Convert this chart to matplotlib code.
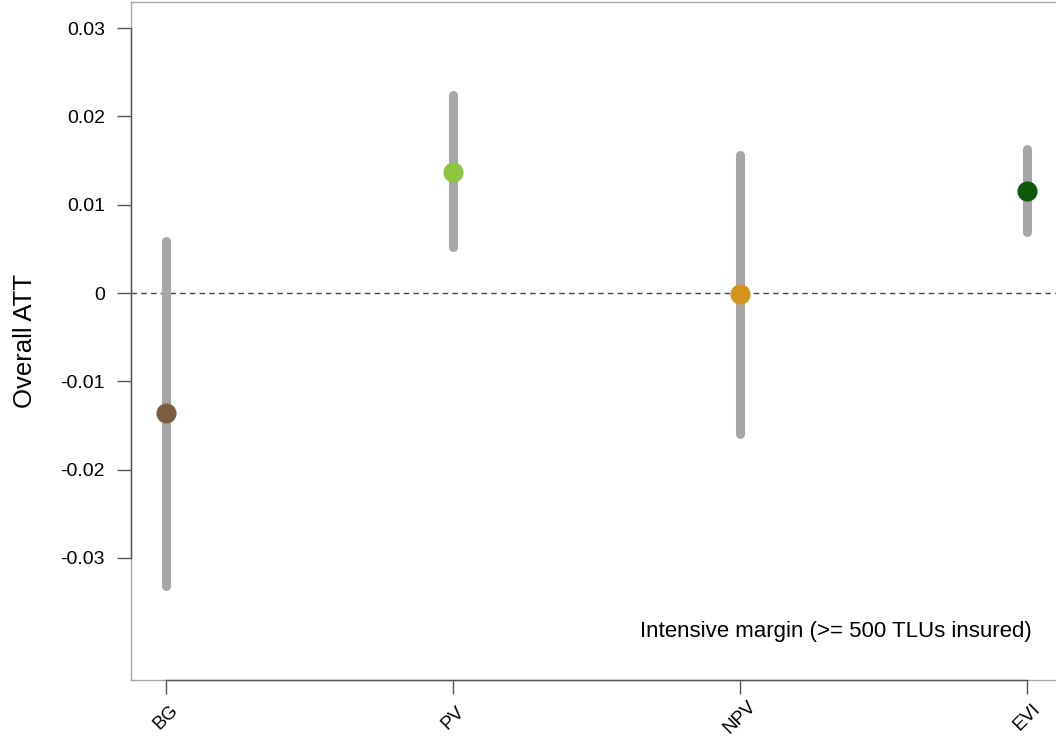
import matplotlib
matplotlib.use("Agg")
import matplotlib.pyplot as plt
import matplotlib.transforms as mtransforms

plt.rcParams['font.family'] = ['Liberation Sans', 'DejaVu Sans']

categories = ["BG", "PV", "NPV", "EVI"]
att = [-0.0136, 0.0137, -0.0001, 0.0116]
ci_low = [-0.0332, 0.0052, -0.0160, 0.0069]
ci_high = [0.0059, 0.0224, 0.0156, 0.0163]
colors = ["#7B5E3F", "#8DC63F", "#D4931C", "#0D5A0B"]
yticks = [-0.03, -0.02, -0.01, 0, 0.01, 0.02, 0.03]
yticklabels = ["-0.03", "-0.02", "-0.01", "0", "0.01", "0.02", "0.03"]

fig = plt.figure(figsize=(10.56, 7.40), dpi=100)
ax = fig.add_axes([0.1245, 0.0811, 0.8806, 0.9162])

x = list(range(1, len(categories) + 1))
for xi, lo, hi, m, c in zip(x, ci_low, ci_high, att, colors):
    ax.plot([xi, xi], [lo, hi], color="#A6A6A6", lw=6.5, solid_capstyle="round", zorder=2)
    ax.plot([xi], [m], "o", color=c, ms=13.5, mec=c, zorder=3)

ax.axhline(0, color="#444444", lw=1.0, ls=(0, (4, 3)), zorder=1)

ax.set_xlim(0.88, 4.12)
ax.set_ylim(-0.04383, 0.03296)

for s in ax.spines.values():
    s.set_color("#A8A8A8")
    s.set_linewidth(1.0)

# axis lines spanning tick range (R style)
tb = mtransforms.blended_transform_factory(ax.transData, ax.transAxes)
ax.plot([1, 4], [0, 0], color="#555555", lw=1.0, transform=tb, clip_on=False, zorder=5)
tl = mtransforms.blended_transform_factory(ax.transAxes, ax.transData)
ax.plot([0, 0], [-0.03, 0.03], color="#555555", lw=1.0, transform=tl, clip_on=False, zorder=5)

ax.set_yticks(yticks)
ax.set_yticklabels(yticklabels, fontsize=14)
ax.set_xticks(x)
ax.set_xticklabels(categories, fontsize=13.5)
ax.tick_params(axis='both', length=10, width=1.0, color="#555555", direction='out')
ax.tick_params(axis='y', pad=9)
ax.tick_params(axis='x', pad=17)
plt.setp(ax.get_xticklabels(), rotation=45, ha='center', va='center', rotation_mode='anchor')

ax.set_ylabel("Overall ATT", fontsize=18.5)
ax.yaxis.set_label_coords(-0.102, 0.5)

ax.text(1032, 740 - 631, "Intensive margin (>= 500 TLUs insured)", fontsize=16,
        ha='right', va='center', transform=None)

fig.savefig("out.png", dpi=100)
